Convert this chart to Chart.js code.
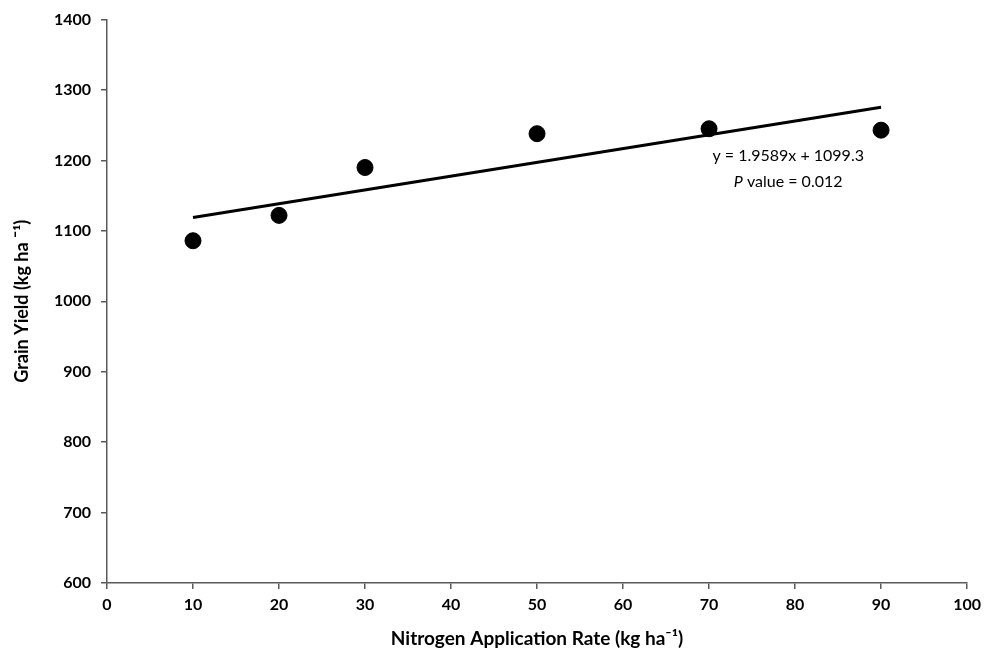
<!DOCTYPE html>
<html>
<head>
<meta charset="utf-8">
<script src="https://cdn.jsdelivr.net/npm/chart.js@4/dist/chart.umd.min.js"></script>
<style>
  html, body { margin: 0; padding: 0; background: #fff; }
  #wrap { width: 987px; height: 650px; }
</style>
</head>
<body>
<div id="wrap"><canvas id="c" width="987" height="650"></canvas></div>
<script>
const nitrogenRates = [10, 20, 30, 50, 70, 90];
const grainYield = [1086, 1122, 1190, 1238, 1245, 1243];
const trendSlope = 1.9589;
const trendIntercept = 1099.3;
const trendRange = [10, 90];
const equationLines = ['y = 1.9589x + 1099.3', 'P value = 0.012'];
const xTicks = [0, 10, 20, 30, 40, 50, 60, 70, 80, 90, 100];
const yTicks = [600, 700, 800, 900, 1000, 1100, 1200, 1300, 1400];

const scatterData = nitrogenRates.map((x, i) => ({ x: x, y: grainYield[i] }));
const trendData = trendRange.map(x => ({ x: x, y: trendSlope * x + trendIntercept }));

const axisColor = '#595959';
const tickFont = { family: 'Lato', size: 16, weight: 'bold' };

const annotationPlugin = {
  id: 'eqText',
  afterDatasetsDraw(chart) {
    const ctx = chart.ctx;
    const xs = chart.scales.x, ys = chart.scales.y;
    const cx = xs.getPixelForValue(79.2);
    const y1 = ys.getPixelForValue(1206);
    const y2 = ys.getPixelForValue(1170);
    ctx.save();
    ctx.fillStyle = '#000';
    ctx.textAlign = 'center';
    ctx.textBaseline = 'middle';
    ctx.font = '16px Lato';
    ctx.fillText(equationLines[0], cx, y1);
    const rest = equationLines[1].slice(1);
    ctx.font = 'italic 16px Lato';
    const wP = ctx.measureText('P').width;
    ctx.font = '16px Lato';
    const wR = ctx.measureText(rest).width;
    const start = cx - (wP + wR) / 2;
    ctx.textAlign = 'left';
    ctx.font = 'italic 16px Lato';
    ctx.fillText('P', start, y2);
    ctx.font = '16px Lato';
    ctx.fillText(rest, start + wP, y2);
    ctx.restore();
  }
};

new Chart(document.getElementById('c'), {
  type: 'scatter',
  data: {
    datasets: [
      {
        type: 'line',
        data: trendData,
        borderColor: '#000',
        borderWidth: 3,
        pointRadius: 0,
        fill: false,
        order: 2
      },
      {
        type: 'scatter',
        data: scatterData,
        backgroundColor: '#000',
        borderColor: '#000',
        pointRadius: 8,
        order: 1
      }
    ]
  },
  options: {
    responsive: false,
    animation: false,
    devicePixelRatio: 1,
    layout: { padding: { top: 18, right: 17, left: 0, bottom: 0 } },
    plugins: { legend: { display: false }, tooltip: { enabled: false } },
    scales: {
      x: {
        type: 'linear',
        min: 0, max: 100,
        afterBuildTicks: s => { s.ticks = xTicks.map(v => ({ value: v })); },
        afterFit: s => { s.height = 67; },
        grid: { display: true, drawOnChartArea: false, drawTicks: true, tickLength: 6, color: axisColor, lineWidth: 1.5 },
        border: { display: true, color: axisColor, width: 1.5 },
        ticks: { color: '#000', font: tickFont, padding: 6, maxRotation: 0, callback: v => String(v) },
        title: {
          display: true,
          text: 'Nitrogen Application Rate (kg ha\u207B\u00B9)',
          color: '#000',
          font: { family: 'Lato', size: 19, weight: 'bold' },
          padding: { top: 0, bottom: 0 }
        }
      },
      y: {
        type: 'linear',
        min: 600, max: 1400,
        afterBuildTicks: s => { s.ticks = yTicks.map(v => ({ value: v })); },
        afterFit: s => { s.width = 107; },
        grid: { display: true, drawOnChartArea: false, drawTicks: true, tickLength: 6, color: axisColor, lineWidth: 1.5 },
        border: { display: true, color: axisColor, width: 1.5 },
        ticks: { color: '#000', font: tickFont, padding: 10, callback: v => String(v) },
        title: {
          display: true,
          text: 'Grain Yield (kg ha \u00AF\u00B9)',
          color: '#000',
          font: { family: 'Lato', size: 18, weight: 'bold' },
          padding: { top: 11, bottom: 0 }
        }
      }
    }
  },
  plugins: [annotationPlugin]
});
</script>
</body>
</html>
